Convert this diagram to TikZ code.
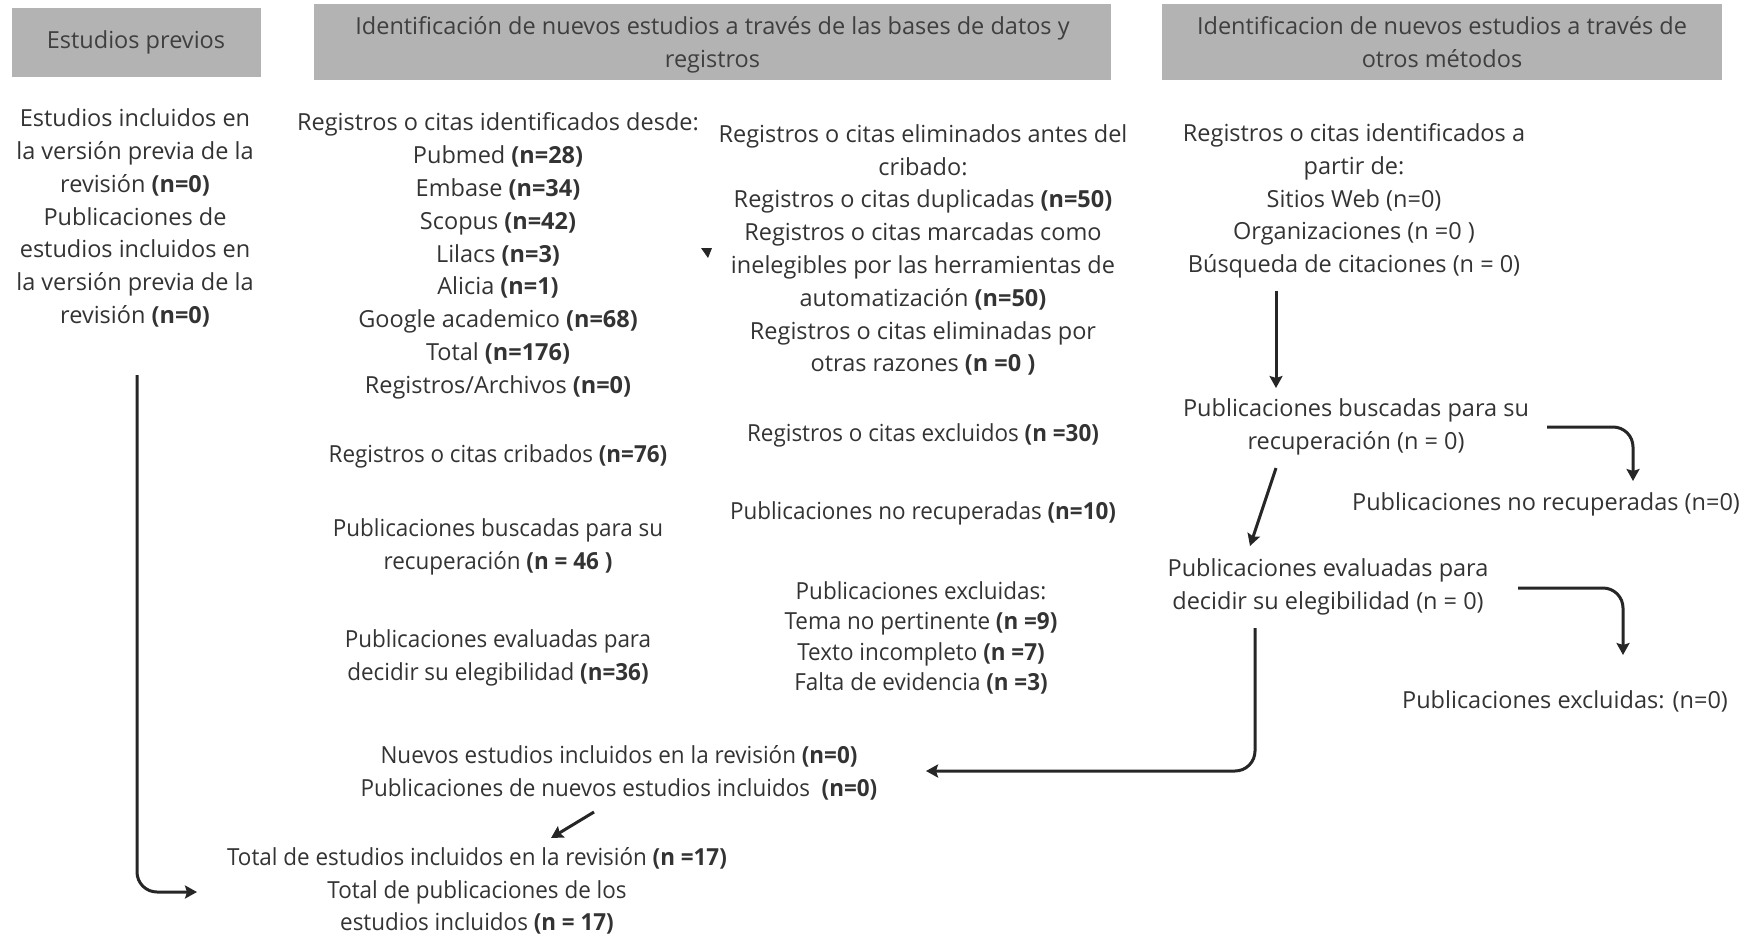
\documentclass[tikz,border=0pt]{standalone}
\usepackage{fontspec}
\setmainfont{Open Sans}
\newfontfamily\condfont[FakeStretch=0.955]{Open Sans}
\usetikzlibrary{arrows.meta,calc}
\definecolor{hdrfill}{HTML}{B3B3B3}
\definecolor{txtc}{HTML}{333333}
\definecolor{hdrtxt}{HTML}{3F3F3F}
\tikzset{
  txt/.style={align=center, text=txtc, inner sep=0pt, font=\fontsize{23.5}{32.8}\selectfont},
  ctxt/.style={txt, font=\condfont\fontsize{23.5}{32.8}\selectfont},
  ctxttight/.style={txt, font=\condfont\fontsize{23.5}{30.5}\selectfont},
  hdr/.style={fill=hdrfill, text=hdrtxt, align=center, inner sep=0pt, font=\fontsize{23.5}{33.5}\selectfont},
  arr/.style={draw=black!85, line width=3pt, -{Stealth[length=12pt,width=13pt,inset=2pt]}, rounded corners=20pt}
}
\begin{document}
\begin{tikzpicture}[x=1pt,y=-1pt]
\useasboundingbox (0,0) rectangle (1753,937);
% headers
\node[hdr, minimum width=249pt, minimum height=69pt] (h1) at (136,42.5) {Estudios previos};
\node[hdr, minimum width=797pt, minimum height=76pt, text depth=0pt] (h2) at (712.5,42) {Identificación de nuevos estudios a través de las bases de datos y\\registros};
\node[hdr, minimum width=560pt, minimum height=76pt] (h3) at (1442,42) {Identificacion de nuevos estudios a través de\\otros métodos};
% left column
\node[txt] (prev) at (135,218) {Estudios incluidos en\\la versión previa de la\\revisión \textbf{(n=0)}\\Publicaciones de\\estudios incluidos en\\la versión previa de la\\revisión \textbf{(n=0)}};
% databases column
\node[txt] (db) at (498,256) {Registros o citas identificados desde:\\Pubmed \textbf{(n=28)}\\Embase \textbf{(n=34)}\\Scopus \textbf{(n=42)}\\Lilacs \textbf{(n=3)}\\Alicia \textbf{(n=1)}\\Google academico \textbf{(n=68)}\\Total \textbf{(n=176)}\\Registros/Archivos \textbf{(n=0)}};
\node[ctxt] (crib) at (498,456) {Registros o citas cribados \textbf{(n=76)}};
\node[ctxt] (busc) at (498,547) {Publicaciones buscadas para su\\recuperación \textbf{(n = 46 )}};
\node[ctxt] (eval) at (498,658) {Publicaciones evaluadas para\\decidir su elegibilidad \textbf{(n=36)}};
% removal column
\node[txt] (elim) at (923,250) {Registros o citas eliminados antes del\\cribado:\\Registros o citas duplicadas \textbf{(n=50)}\\Registros o citas marcadas como\\inelegibles por las herramientas de\\automatización \textbf{(n=50)}\\Registros o citas eliminadas por\\otras razones \textbf{(n =0 )}};
\node[ctxt] (excl) at (923,435) {Registros o citas excluidos \textbf{(n =30)}};
\node[ctxt] (norec) at (923,513) {Publicaciones no recuperadas \textbf{(n=10)}};
\node[ctxttight] (pexcl) at (921,638) {Publicaciones excluidas:\\Tema no pertinente \textbf{(n =9)}\\Texto incompleto \textbf{(n =7)}\\Falta de evidencia \textbf{(n =3)}};
\fill[black!85] (701,248) -- (712,248) -- (708,258) -- cycle;
% other methods column
\node[txt] (otros) at (1354,201) {Registros o citas identificados a\\partir de:\\Sitios Web (n=0)\\Organizaciones (n =0 )\\Búsqueda de citaciones (n = 0)};
\node[txt] (busc4) at (1356,427) {Publicaciones buscadas para su\\recuperación (n = 0)};
\node[txt] (norec4) at (1546,504) {Publicaciones no recuperadas (n=0)};
\node[txt] (eval4) at (1328,587) {Publicaciones evaluadas para\\decidir su elegibilidad (n = 0)};
\node[txt] (excl4) at (1565,701) {Publicaciones excluidas: (n=0)};
% included
\node[ctxt] (nuevos) at (619,773) {Nuevos estudios incluidos en la revisión \textbf{(n=0)}\\Publicaciones de nuevos estudios incluidos~~\textbf{(n=0)}};
\node[ctxt] (total) at (477,891) {Total de estudios incluidos en la revisión \textbf{(n =17)}\\Total de publicaciones de los\\estudios incluidos \textbf{(n = 17)}};
% connectors
\draw[arr] ($(otros)+(-78,90)$) -- ($(busc4)+(-80,-39)$);
\draw[arr] ($(busc4)+(191,0)$) -| ($(norec4)+(87,-23)$);
\draw[arr] ($(busc4)+(-80,41)$) -- ($(eval4)+(-78,-41)$);
\draw[arr] ($(eval4)+(190,1)$) -| ($(excl4)+(58,-46)$);
\draw[arr] ($(eval4)+(-73,41)$) |- ($(nuevos)+(307,-2)$);
\draw[arr] ($(nuevos)+(-25,39)$) -- ($(total)+(74,-53)$);
\draw[arr] ($(prev)+(2,157)$) |- ($(total)+(-280,1)$);
\end{tikzpicture}
\end{document}
